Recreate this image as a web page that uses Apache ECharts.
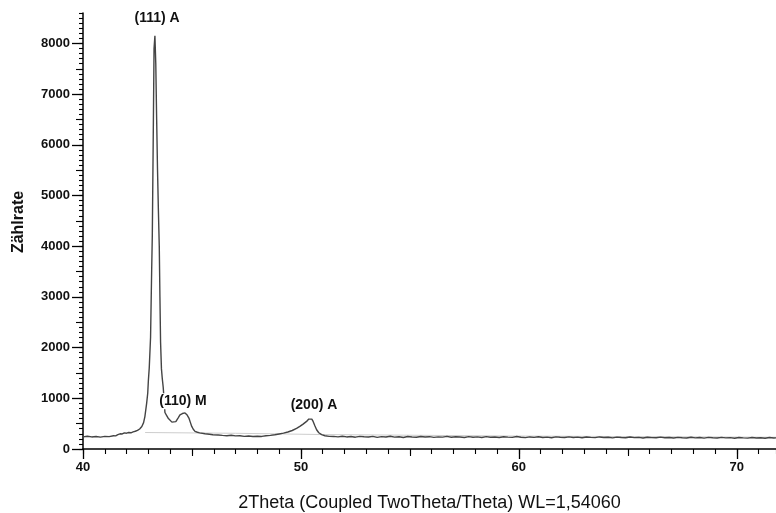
<!DOCTYPE html>
<html>
<head>
<meta charset="utf-8">
<title>Diffraktogramm</title>
<script src="https://cdn.jsdelivr.net/npm/echarts@6/dist/echarts.min.js"></script>
<style>
html,body{margin:0;padding:0;background:#fff;}
#data_chart{width:776px;height:513px;}
</style>
</head>
<body>
<div id="data_chart"></div>
<script>
var twoTheta = [
	40.0, 40.2, 40.4, 40.6, 40.8, 41.0, 41.2, 41.4,
	41.5, 41.6, 41.7, 41.8, 41.9, 42.0, 42.1, 42.2, 42.3, 42.4, 42.5, 42.6, 42.7, 42.78, 42.84, 42.92, 42.97,
	43.0, 43.04, 43.1, 43.15, 43.18, 43.22, 43.26, 43.3, 43.34, 43.38, 43.42, 43.46, 43.5, 43.53, 43.56,
	43.6, 43.64, 43.68, 43.72, 43.76, 43.84, 43.92, 44.0, 44.08, 44.17, 44.26, 44.36, 44.45, 44.56, 44.68,
	44.78, 44.86, 44.93, 44.99, 45.06, 45.14, 45.25, 45.35, 45.44, 45.6, 45.8, 45.96, 46.2, 46.4, 46.6,
	46.8, 47.0, 47.2, 47.4, 47.6, 47.8, 48.0, 48.2, 48.4, 48.6, 48.8, 49.0, 49.2, 49.4, 49.6, 49.8, 49.95,
	50.1, 50.26, 50.36, 50.44, 50.5, 50.56, 50.64, 50.72, 50.82, 50.95, 51.1, 51.3, 51.5,
	51.7, 51.9, 52.1, 52.3, 52.5, 52.7, 52.9, 53.1, 53.3, 53.5, 53.7, 53.9, 54.1, 54.3, 54.5, 54.7, 54.9,
	55.1, 55.3, 55.5, 55.7, 55.9, 56.1, 56.3, 56.5, 56.7, 56.9, 57.1, 57.3, 57.5, 57.7, 57.9, 58.1, 58.3,
	58.5, 58.7, 58.9, 59.1, 59.3, 59.5, 59.7, 59.9, 60.1, 60.3, 60.5, 60.7, 60.9, 61.1, 61.3, 61.5, 61.7,
	61.9, 62.1, 62.3, 62.5, 62.7, 62.9, 63.1, 63.3, 63.5, 63.7, 63.9, 64.1, 64.3, 64.5, 64.7, 64.9, 65.1,
	65.3, 65.5, 65.7, 65.9, 66.1, 66.3, 66.5, 66.7, 66.9, 67.1, 67.3, 67.5, 67.7, 67.9, 68.1, 68.3, 68.5,
	68.7, 68.9, 69.1, 69.3, 69.5, 69.7, 69.9, 70.1, 70.3, 70.5, 70.7, 70.9, 71.1, 71.3, 71.5, 71.7, 71.9
];
var counts = [
	240, 252, 238, 246, 235, 250, 244, 262,
	258, 282, 300, 296, 318, 312, 325, 320, 338, 350, 366, 395, 445, 520, 640, 900, 1100,
	1350, 1600, 2200, 3500, 4200, 6000, 7900, 8150, 7600, 6500, 5500, 4700, 4000, 3000, 2100,
	1580, 1380, 1220, 980, 720, 660, 600, 570, 530, 510, 540, 610, 675, 700, 712,
	670, 610, 520, 445, 390, 347, 330, 318, 315, 300, 290, 282, 276, 268, 262,
	270, 258, 262, 250, 256, 246, 252, 248, 262, 268, 280, 296, 312, 336, 365, 405, 445,
	490, 544, 590, 623, 590, 544, 460, 380, 320, 282, 262, 250, 248,
	240, 252, 238, 247, 233, 250, 241, 236, 249, 230, 244, 237, 251, 235, 242, 228, 246,
	238, 232, 247, 236, 243, 229, 240, 234, 248, 231, 242, 236, 226, 244, 233, 239, 228,
	245, 232, 238, 226, 241, 234, 229, 246, 233, 224, 238, 230, 242, 227, 235, 222, 239,
	231, 226, 240, 228, 234, 221, 236, 229, 224, 238, 226, 232, 219, 235, 227, 222, 236,
	224, 230, 218, 233, 225, 221, 234, 222, 228, 216, 230, 223, 218, 231, 220, 226, 214,
	229, 221, 217, 230, 219, 224, 213, 227, 219, 215, 228, 217, 222, 212, 226, 218, 221
];
// fitted background (light grey line)
var bgTheta  = [42.85, 47.0, 51.0, 60.0, 71.8];
var bgCounts = [325, 310, 285, 255, 232];
// reflex labels
var peakNames  = ['(111) A', '(110) M', '(200) A'];
var peakTheta  = [43.40, 44.59, 50.60];
var peakCounts = [8500, 940, 870];
// ticks
var xMajorTicks = [40, 50, 60, 70];
var xMidTicks   = [45, 55, 65];
var yMajorTicks = [0, 1000, 2000, 3000, 4000, 5000, 6000, 7000, 8000];
var yMidTicks   = [500, 1500, 2500, 3500, 4500, 5500, 6500, 7500];

var FONT = "'Liberation Sans', Arial, sans-serif";

function pairs(xs, ys){
	var out = [];
	for (var i = 0; i < xs.length; i++) {
		out.push([xs[i], ys[i]]);
	}
	return out;
}

/**
 * extra axis that only draws ticks
 */
function tickAxis(kind, min, max, len, interval, values){
	var ax = {
		type: 'value',
		min: min,
		max: max,
		position: kind == 'x' ? 'bottom' : 'left',
		axisLine: {show: false},
		axisLabel: {show: false},
		splitLine: {show: false},
		axisTick: {show: true, length: len, lineStyle: {color: '#000', width: 1.1}}
	};
	if (interval) ax.interval = interval;
	if (values) ax.axisTick.customValues = values;
	return ax;
}

function showDataChart(){
	var myChart = echarts.init(document.getElementById('data_chart'));
	var xMain = {
		type: 'value',
		min: 40,
		max: 71.8,
		interval: 10,
		position: 'bottom',
		axisLine: {lineStyle: {color: '#000', width: 1.5}},
		axisTick: {customValues: xMajorTicks, length: 10, lineStyle: {color: '#000', width: 1.3}},
		axisLabel: {customValues: xMajorTicks, margin: 12, color: '#111', fontSize: 13, fontWeight: 'bold', fontFamily: FONT,
			formatter: function(v){ return String(v); }},
		splitLine: {show: false},
		name: '2Theta (Coupled TwoTheta/Theta) WL=1,54060',
		nameLocation: 'middle',
		nameGap: 45,
		nameTextStyle: {color: '#111', fontSize: 18, fontFamily: FONT}
	};
	var yMain = {
		type: 'value',
		min: 0,
		max: 8600,
		interval: 1000,
		position: 'left',
		axisLine: {show: true, lineStyle: {color: '#000', width: 1.5}},
		axisTick: {show: true, customValues: yMajorTicks, length: 11, lineStyle: {color: '#000', width: 1.3}},
		axisLabel: {customValues: yMajorTicks, margin: 13, color: '#111', fontSize: 13, fontWeight: 'bold', fontFamily: FONT,
			formatter: function(v){ return String(v); }},
		splitLine: {show: false},
		name: 'Zählrate',
		nameLocation: 'middle',
		nameGap: 56,
		nameTextStyle: {color: '#111', fontSize: 16, fontWeight: 'bold', fontFamily: FONT, padding: [0, 0, 0, 18]}
	};
	var option = {
		animation: false,
		backgroundColor: '#fff',
		grid: {left: 83, right: 0, top: 13, bottom: 64, containLabel: false, outerBoundsMode: 'none'},
		xAxis: [
			xMain,
			tickAxis('x', 40, 71.8, 5, 1, null),
			tickAxis('x', 40, 71.8, 7, null, xMidTicks)
		],
		yAxis: [
			yMain,
			tickAxis('y', 0, 8600, 4, 100, null),
			tickAxis('y', 0, 8600, 7, null, yMidTicks)
		],
		series: [{
			name: 'Untergrund',
			type: 'line',
			data: pairs(bgTheta, bgCounts),
			showSymbol: false,
			symbol: 'none',
			lineStyle: {color: '#cdcdcd', width: 1},
			z: 1,
			silent: true
		}, {
			name: 'Messung',
			type: 'line',
			data: pairs(twoTheta, counts),
			showSymbol: false,
			symbol: 'none',
			clip: true,
			lineStyle: {color: '#444', width: 1.4},
			z: 2,
			markPoint: {
				symbol: 'rect',
				symbolSize: [1, 1],
				silent: true,
				itemStyle: {color: 'rgba(0,0,0,0)'},
				label: {
					show: true,
					position: 'inside',
					color: '#111',
					fontSize: 14,
					fontWeight: 'bold',
					fontFamily: FONT,
					backgroundColor: '#fff',
					padding: [1, 2]
				},
				data: peakNames.map(function(n, i){
					return {name: n, coord: [peakTheta[i], peakCounts[i]], value: n, label: {formatter: n}};
				})
			}
		}]
	};
	myChart.setOption(option);
}

showDataChart();
</script>
</body>
</html>
